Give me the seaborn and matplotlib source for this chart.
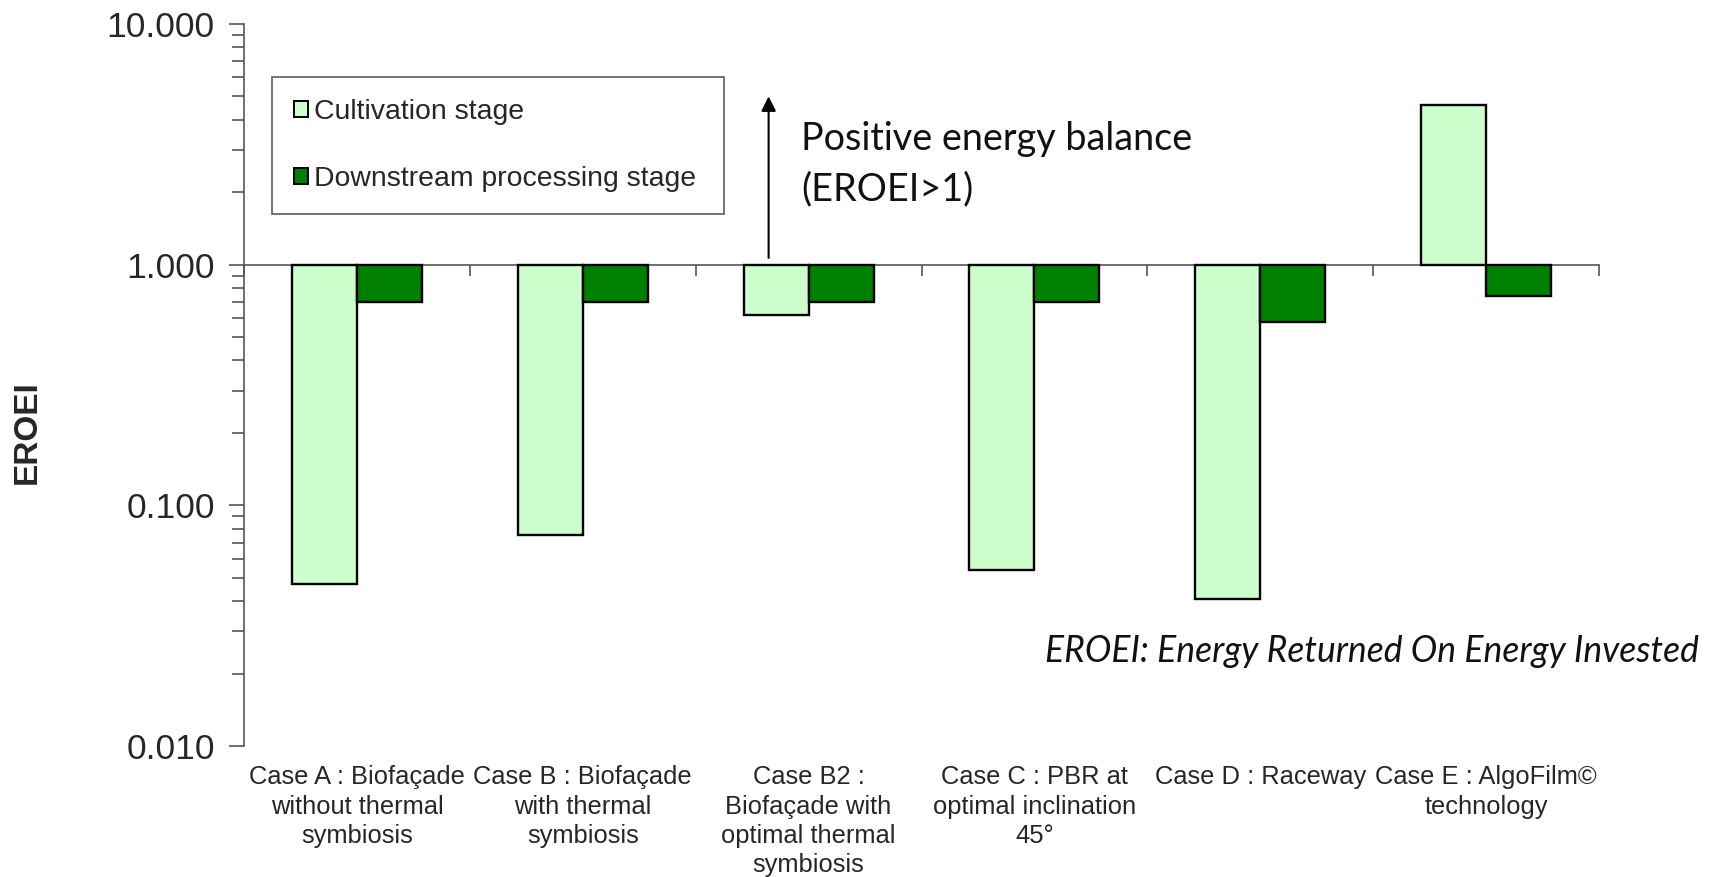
import numpy as np
import pandas as pd
import matplotlib
matplotlib.use("Agg")
import matplotlib.pyplot as plt
import seaborn as sns
from matplotlib.ticker import FixedLocator, FuncFormatter

# Categories (one per production scenario)
cases = [
    "Case A : Biofaçade\nwithout thermal\nsymbiosis",
    "Case B : Biofaçade\nwith thermal\nsymbiosis",
    "Case B2 :\nBiofaçade with\noptimal thermal\nsymbiosis",
    "Case C : PBR at\noptimal inclination\n45°",
    "Case D : Raceway",
    "Case E : AlgoFilm©\ntechnology",
]
stages = ["Cultivation stage", "Downstream processing stage"]

# EROEI per stage
cultivation = [0.047, 0.075, 0.62, 0.054, 0.041, 4.6]
downstream = [0.70, 0.70, 0.70, 0.70, 0.58, 0.74]

stage_colors = ["#CCFFCC", "#008000"]
y_tick_values = [0.01, 0.1, 1.0, 10.0]

sns.set_theme(style="white")
plt.rcParams["font.family"] = ["Liberation Sans", "DejaVu Sans"]

df = pd.DataFrame({
    "case": cases * 2,
    "stage": [stages[0]] * len(cases) + [stages[1]] * len(cases),
    "eroei": cultivation + downstream,
})
# Bars grow up or down from EROEI = 1 on a logarithmic axis
df["log_eroei"] = np.log10(df["eroei"])

fig = plt.figure(figsize=(17.19, 8.77), dpi=100)
ax = fig.add_axes([244 / 1719, 1 - 746 / 877, (1599 - 244) / 1719, (746 - 24) / 877])

sns.barplot(
    data=df, x="case", y="log_eroei", hue="stage", order=cases, hue_order=stages,
    palette=stage_colors, saturation=1, width=0.575,
    edgecolor="black", linewidth=1.7, ax=ax,
)

n = len(cases)
ax.set_xlim(-0.5, n - 0.5)
lo, hi = np.log10(y_tick_values[0]), np.log10(y_tick_values[-1])
ax.set_ylim(lo, hi)

# Log-style y axis: decades labelled with three decimals, minor ticks at 2..9
major = [np.log10(v) for v in y_tick_values]
minor = [np.log10(k) + d for d in range(int(lo), int(hi)) for k in range(2, 10)]
ax.yaxis.set_major_locator(FixedLocator(major))
ax.yaxis.set_minor_locator(FixedLocator(minor))
ax.yaxis.set_major_formatter(FuncFormatter(lambda v, _: f"{10 ** v:.3f}"))
ax.tick_params(axis="y", which="major", direction="out", length=11, width=1.2,
               color="#555555", labelsize=25.5, pad=10, left=True)
ax.tick_params(axis="y", which="minor", direction="out", length=9, width=1.2,
               color="#555555", left=True)

ax.tick_params(axis="x", length=0, labelsize=18.4, pad=14)
for lab in ax.get_xticklabels():
    lab.set_linespacing(1.28)

ax.set_xlabel("")
ax.set_ylabel("")
for side in ["top", "right", "bottom"]:
    ax.spines[side].set_visible(False)
ax.spines["left"].set_color("#555555")
ax.spines["left"].set_linewidth(1.2)

# Category axis crossing at EROEI = 1, with ticks between groups
cross = (0 - lo) / (hi - lo)
sec = ax.secondary_xaxis(cross)
sec.set_alignment("bottom")
sec.set_xticks(np.arange(n + 1) - 0.5)
sec.tick_params(axis="x", direction="out", length=8, width=1.2, color="#555555",
                labelbottom=False, labeltop=False)
sec.spines["bottom"].set_color("#555555")
sec.spines["bottom"].set_linewidth(1.2)
ax.set_zorder(1)

handles, labels = ax.get_legend_handles_labels()
leg_x0 = (272 - 244) / 1355
leg_y1 = (746 - 77) / 722
leg_w = (724 - 272) / 1355
leg = ax.legend(
    handles, labels, loc="upper left",
    bbox_to_anchor=(leg_x0, leg_y1 - 0.2, leg_w, 0.2), mode="expand",
    borderaxespad=0, frameon=True, fancybox=False, edgecolor="#333333",
    fontsize=20.4, handlelength=0.5, handleheight=0.5, handletextpad=0.2,
    labelspacing=1.45, borderpad=0.78,
)
leg.get_frame().set_linewidth(1.2)
for h in leg.legend_handles:
    h.set_linewidth(1.4)

# Positive energy balance indicator
ax.annotate("", xy=(1.823, 0.711), xytext=(1.823, 0.0165),
            arrowprops=dict(arrowstyle="-|>", color="black", lw=1.5, mutation_scale=22))
fig.text(801 / 1719, 1 - 139 / 877, "Positive energy balance", family=["Lato", "DejaVu Sans"],
         fontsize=27.2, ha="left", va="center", color="#111111")
fig.text(801 / 1719, 1 - 189 / 877, "(EROEI>1)", family=["Lato", "DejaVu Sans"],
         fontsize=27.2, ha="left", va="center", color="#111111")

fig.text(1699 / 1719, 1 - 652 / 877, "EROEI: Energy Returned On Energy Invested",
         family=["Lato", "DejaVu Sans"], style="italic", fontsize=25.6, ha="right", va="center",
         color="#111111")

fig.text(27 / 1719, 1 - 432 / 877, "EROEI", rotation=90, fontsize=24, fontweight="bold",
         ha="center", va="center")

fig.savefig("out.png", dpi=100, facecolor="white")
